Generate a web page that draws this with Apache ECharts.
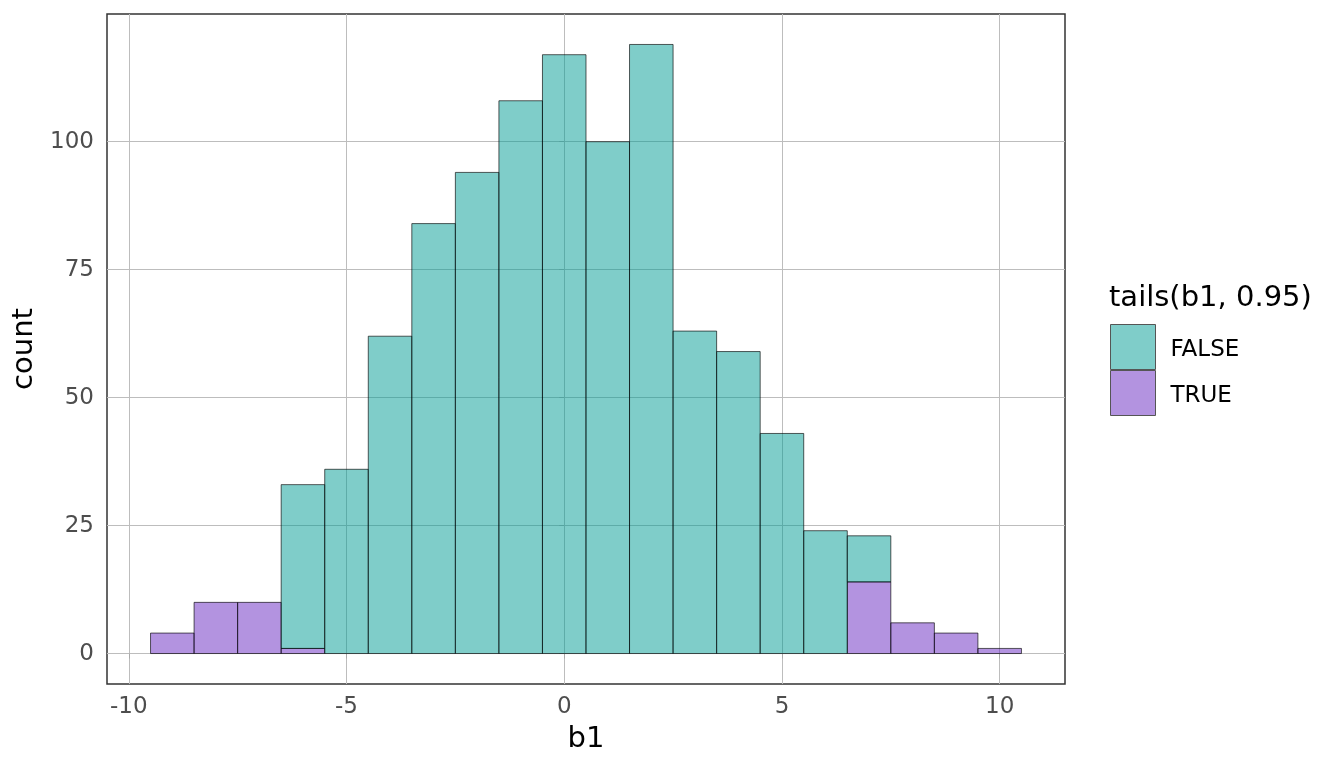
<!DOCTYPE html>
<html>
<head>
<meta charset="utf-8">
<script src="https://cdn.jsdelivr.net/npm/echarts@6/dist/echarts.min.js"></script>
<style>
    html, body { margin: 0; padding: 0; background: #fff; }
    #main { width: 1344px; height: 768px; }
</style>
</head>
<body>
<div id="main"></div>
<script>
    // bin centres (width 1) and counts per group
    var bins = [-9, -8, -7, -6, -5, -4, -3, -2, -1, 0, 1, 2, 3, 4, 5, 6, 7, 8, 9, 10];
    var countTrue = [4, 10, 10, 1, 0, 0, 0, 0, 0, 0, 0, 0, 0, 0, 0, 0, 14, 6, 4, 1];
    var countFalse = [0, 0, 0, 32, 36, 62, 84, 94, 108, 117, 100, 119, 63, 59, 43, 24, 9, 0, 0, 0];
    var xTicks = [-10, -5, 0, 5, 10];
    var yTicks = [0, 25, 50, 75, 100];

    var font = 'DejaVu Sans';
    var fillFalse = 'rgba(0,155,147,0.5)';
    var fillTrue = 'rgba(103,39,193,0.5)';

    // stacked: TRUE at the bottom, FALSE on top of it
    var dataTrue = bins.map(function (b, i) { return [b, 0, countTrue[i]]; });
    var dataFalse = bins.map(function (b, i) { return [b, countTrue[i], countTrue[i] + countFalse[i]]; });

    function renderBar(params, api) {
        var x = api.value(0), lo = api.value(1), hi = api.value(2);
        if (hi <= lo) return;
        var p0 = api.coord([x - 0.5, hi]);
        var p1 = api.coord([x + 0.5, lo]);
        return {
            type: 'rect',
            shape: { x: p0[0], y: p0[1], width: p1[0] - p0[0], height: p1[1] - p0[1] },
            style: { fill: api.visual('color'), stroke: 'rgba(0,0,0,0.8)', lineWidth: 0.8 }
        };
    }

    var chart = echarts.init(document.getElementById('main'));
    chart.setOption({
        animation: false,
        textStyle: { fontFamily: font },
        title: {
            text: 'tails(b1, 0.95)',
            left: 1109, top: 284, padding: 0,
            textStyle: { fontSize: 29, fontWeight: 'normal', color: '#000', fontFamily: font }
        },
        legend: {
            orient: 'vertical',
            left: 1110, top: 324, padding: 0,
            itemWidth: 45, itemHeight: 45, itemGap: 0,
            icon: 'rect',
            selectedMode: false,
            data: ['FALSE', 'TRUE'],
            itemStyle: { borderColor: '#555', borderWidth: 1 },
            formatter: '{a|{name}}',
            textStyle: {
                fontSize: 23, color: '#000', fontFamily: font, padding: [0, 0, 0, 10],
                rich: { a: { fontSize: 23, color: '#000', fontFamily: font, padding: [6, 0, 0, 0] } }
            }
        },
        grid: {
            left: 107, right: 279, top: 14, bottom: 84,
            show: true, borderColor: '#333', borderWidth: 1.5,
            containLabel: false
        },
        xAxis: {
            type: 'value',
            min: -10.5, max: 11.5,
            name: 'b1', nameLocation: 'middle', nameGap: 41,
            nameTextStyle: { fontSize: 29, color: '#000', fontFamily: font },
            axisLine: { show: false },
            axisTick: { show: true, customValues: xTicks, length: 5, lineStyle: { color: '#aaa' } },
            axisLabel: { customValues: xTicks, fontSize: 23, color: '#4d4d4d', margin: 12, fontFamily: font },
            splitLine: { show: true, lineStyle: { color: '#bdbdbd', width: 1 } }
        },
        yAxis: {
            type: 'value',
            min: -5.95, max: 124.95,
            name: 'count', nameLocation: 'middle', nameGap: 50,
            nameTextStyle: { fontSize: 29, color: '#000', fontFamily: font },
            axisLine: { show: false },
            axisTick: { show: true, customValues: yTicks, length: 5, lineStyle: { color: '#aaa' } },
            axisLabel: { customValues: yTicks, fontSize: 23, color: '#4d4d4d', margin: 13, fontFamily: font },
            splitLine: { show: true, lineStyle: { color: '#bdbdbd', width: 1 } }
        },
        series: [
            {
                name: 'TRUE', type: 'custom', renderItem: renderBar,
                itemStyle: { color: fillTrue },
                encode: { x: 0, y: [1, 2] },
                data: dataTrue
            },
            {
                name: 'FALSE', type: 'custom', renderItem: renderBar,
                itemStyle: { color: fillFalse },
                encode: { x: 0, y: [1, 2] },
                data: dataFalse
            }
        ]
    });
</script>
</body>
</html>
